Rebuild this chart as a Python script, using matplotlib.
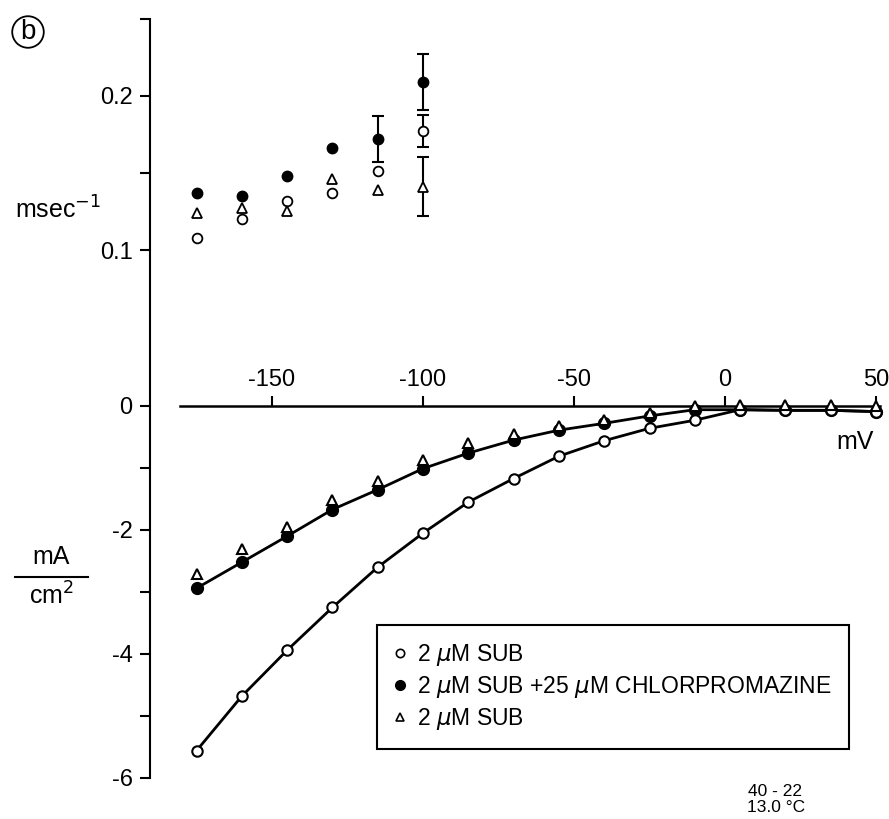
import numpy as np
import matplotlib
matplotlib.use("Agg")
import matplotlib.pyplot as plt
from matplotlib.lines import Line2D

plt.rcParams['font.family'] = ['Liberation Sans', 'DejaVu Sans']
plt.rcParams['axes.unicode_minus'] = False
plt.rcParams['mathtext.fontset'] = 'dejavusans'

# membrane potential (mV)
mv = [-175, -160, -145, -130, -115, -100, -85, -70, -55, -40, -25, -10, 5, 20, 35, 50]

# lower panel: current density (mA/cm2)
i_sub1 = [-5.56, -4.68, -3.94, -3.25, -2.60, -2.05, -1.55, -1.17, -0.81, -0.56, -0.36, -0.23,
          -0.06, -0.07, -0.07, -0.09]
i_cpz = [-2.94, -2.52, -2.10, -1.67, -1.35, -1.01, -0.76, -0.55, -0.39, -0.28, -0.16, -0.06,
         -0.06, -0.07, -0.07, -0.09]
i_sub2 = [-2.71, -2.30, -1.95, -1.52, -1.21, -0.87, -0.60, -0.45, -0.33, -0.22, -0.12, 0.0,
          0.02, 0.02, 0.02, 0.0]

# upper panel: rate constant (msec-1)
mv_rate = [-175, -160, -145, -130, -115, -100]
r_sub1 = [0.108, 0.120, 0.132, 0.137, 0.151, 0.177]
r_cpz = [0.137, 0.135, 0.148, 0.166, 0.172, 0.209]
r_sub2 = [0.124, 0.127, 0.125, 0.146, 0.139, 0.141]
e_sub1 = [np.nan, np.nan, np.nan, np.nan, np.nan, 0.0105]
e_cpz = [np.nan, np.nan, np.nan, np.nan, 0.015, 0.018]
e_sub2 = [np.nan, np.nan, np.nan, np.nan, np.nan, 0.019]

labels = ["2 $\\mu$M SUB", "2 $\\mu$M SUB +25 $\\mu$M CHLORPROMAZINE", "2 $\\mu$M SUB"]

W, H = 889, 819


def px(x, y):
    return x / W, 1 - y / H


fig = plt.figure(figsize=(W / 100, H / 100), dpi=100)
rect = [150 / W, (H - 778) / H, (W - 150) / W, (778 - 18.6) / H]
ax = fig.add_axes(rect)
ax2 = fig.add_axes(rect, frameon=False, sharex=ax)
ax.patch.set_alpha(0)

ax.set_xlim(-190.4, 54.3)
ax.set_ylim(-6, 6.248)
ax2.set_ylim(-0.2422, 0.25)

# lower panel curves
ax.plot(mv, i_cpz, '-', color='black', lw=2, marker='o', ms=8.5, mfc='black', mec='black', zorder=3)
ax.plot(mv, i_sub1, '-', color='black', lw=2, marker='o', ms=7.5, mfc='white', mec='black',
        mew=1.5, zorder=4)
ax.plot(mv, i_sub2, linestyle='none', marker='^', ms=7.5, mfc='white', mec='black', mew=1.5, zorder=5)

# upper panel points
ekw = dict(fmt='none', ecolor='black', elinewidth=1.5, capsize=4, capthick=1.5)
ax2.errorbar(mv_rate, r_cpz, yerr=e_cpz, **ekw)
ax2.errorbar(mv_rate, r_sub1, yerr=e_sub1, **ekw)
ax2.errorbar(mv_rate, r_sub2, yerr=e_sub2, **ekw)
ax2.plot(mv_rate, r_cpz, linestyle='none', marker='o', ms=7.5, mfc='black', mec='black', zorder=3)
ax2.plot(mv_rate, r_sub1, linestyle='none', marker='o', ms=7, mfc='white', mec='black', mew=1.3, zorder=3)
ax2.plot(mv_rate, r_sub2, linestyle='none', marker='^', ms=7, mfc='white', mec='black', mew=1.3, zorder=3)

# spines
for s in ['right', 'bottom']:
    ax.spines[s].set_visible(False)
ax.spines['left'].set_linewidth(1.5)
ax.spines['top'].set_position(('data', 0))
ax.spines['top'].set_bounds(-180.5, 51.3)
ax.spines['top'].set_linewidth(1.8)
ax.spines['top'].set_zorder(1)

ax.xaxis.set_ticks_position('top')
ax.set_xticks([-150, -100, -50, 0, 50])
ax.tick_params(axis='x', direction='out', length=7, width=1.5, labelsize=17, pad=4)

ax.set_yticks([-6, -4, -2, 0])
ax.set_yticks([-5, -3, -1], minor=True)
ax.tick_params(axis='y', which='both', direction='out', length=7.5, width=1.5, labelsize=17, pad=5)

ax2.xaxis.set_visible(False)
ax2.set_yticks([0.1, 0.2])
ax2.set_yticklabels(['0.1', '0.2'])
ax2.set_yticks([0.15, 0.25], minor=True)
ax2.tick_params(axis='y', which='both', direction='out', length=7.5, width=1.5, labelsize=17, pad=5)

# axis labels
fig.text(*px(855, 442), "mV", fontsize=18, ha='center', va='center')
fig.text(*px(15, 210), "msec$^{-1}$", fontsize=18, ha='left', va='center')
fig.text(*px(51, 557), "mA", fontsize=18, ha='center', va='center')
fig.add_artist(Line2D([15 / W, 88 / W], [1 - 577 / H, 1 - 577 / H], color='black', lw=1.5))
fig.text(*px(51, 596), "cm$^2$", fontsize=18, ha='center', va='center')
fig.text(*px(28, 32), "b", fontsize=20, ha='center', va='center',
         bbox=dict(boxstyle='circle,pad=0.1', fc='none', ec='black', lw=1.3))

# legend
handles = [
    Line2D([], [], linestyle='none', marker='o', ms=6, mfc='white', mec='black', mew=1.2),
    Line2D([], [], linestyle='none', marker='o', ms=7, mfc='black', mec='black'),
    Line2D([], [], linestyle='none', marker='^', ms=6, mfc='white', mec='black', mew=1.2),
]
leg = fig.legend(handles, labels, loc='upper left', bbox_to_anchor=px(377, 625), fontsize=16.5,
                 frameon=True, fancybox=False, framealpha=1, edgecolor='black',
                 handlelength=0.55, handletextpad=0.45, labelspacing=0.25, borderpad=0.75,
                 borderaxespad=0)
leg.get_frame().set_linewidth(1.5)

fig.text(*px(748, 792), "40 - 22", fontsize=12.5, ha='left', va='center')
fig.text(*px(747, 808), "13.0 °C", fontsize=12.5, ha='left', va='center')

plt.savefig("out.png", dpi=100)
